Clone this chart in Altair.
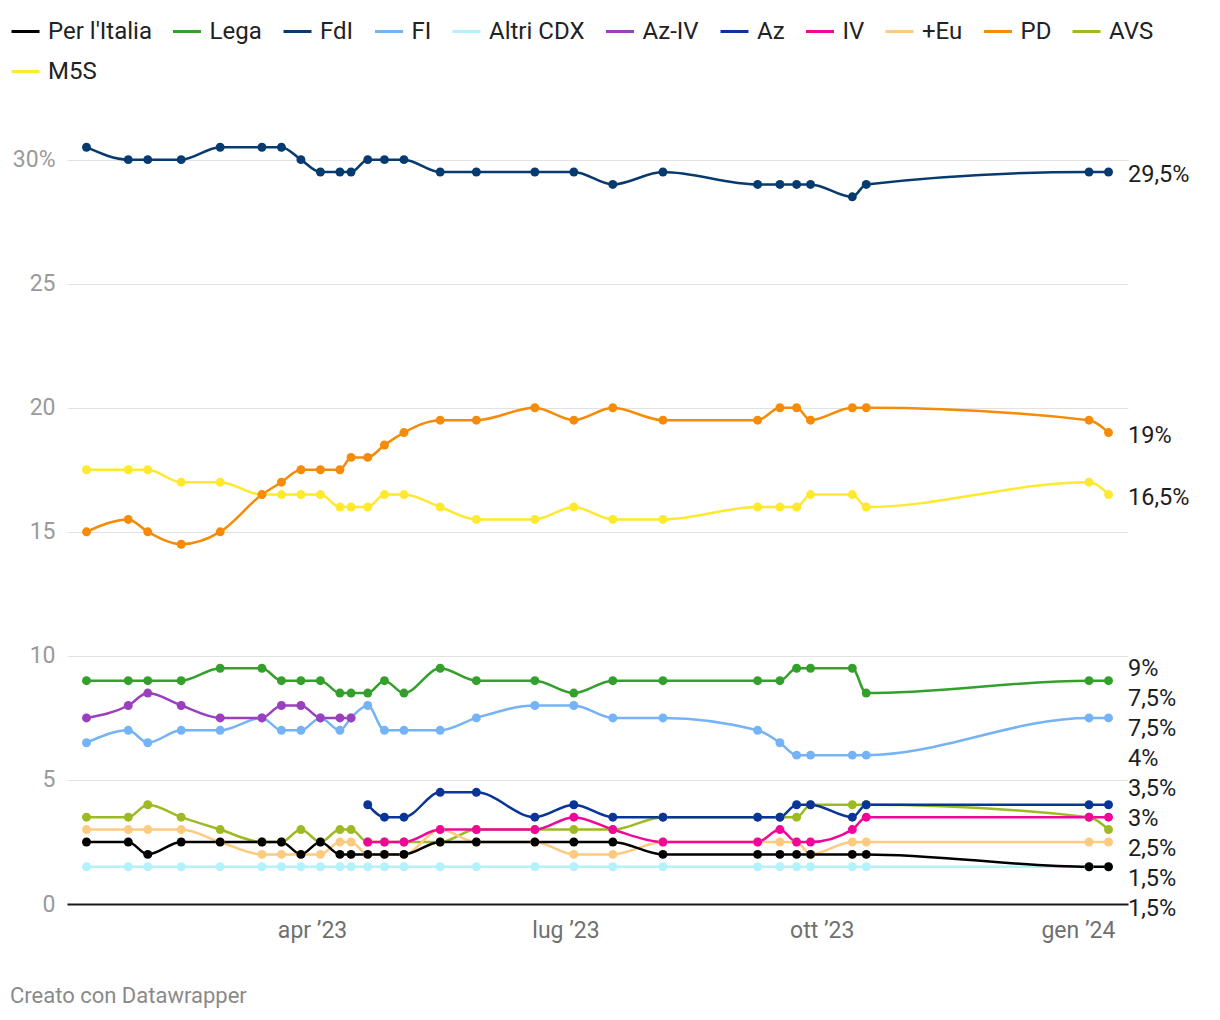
import altair as alt
import pandas as pd
import numpy as np

# ---------------- data ----------------
dates = ["2023-01-10", "2023-01-25", "2023-02-01", "2023-02-13", "2023-02-27",
         "2023-03-14", "2023-03-21", "2023-03-28", "2023-04-04", "2023-04-11",
         "2023-04-15", "2023-04-21", "2023-04-27", "2023-05-04", "2023-05-17",
         "2023-05-30", "2023-06-20", "2023-07-04", "2023-07-18", "2023-08-05",
         "2023-09-08", "2023-09-16", "2023-09-22", "2023-09-27", "2023-10-12",
         "2023-10-17", "2024-01-05", "2024-01-12"]

N = None
per_italia = [2.5, 2.5, 2, 2.5, 2.5, 2.5, 2.5, 2, 2.5, 2, 2, 2, 2, 2, 2.5, 2.5, 2.5, 2.5, 2.5, 2, 2, 2, 2, 2, 2, 2, 1.5, 1.5]
lega = [9, 9, 9, 9, 9.5, 9.5, 9, 9, 9, 8.5, 8.5, 8.5, 9, 8.5, 9.5, 9, 9, 8.5, 9, 9, 9, 9, 9.5, 9.5, 9.5, 8.5, 9, 9]
fdi = [30.5, 30, 30, 30, 30.5, 30.5, 30.5, 30, 29.5, 29.5, 29.5, 30, 30, 30, 29.5, 29.5, 29.5, 29.5, 29, 29.5, 29, 29, 29, 29, 28.5, 29, 29.5, 29.5]
fi = [6.5, 7, 6.5, 7, 7, 7.5, 7, 7, 7.5, 7, 7.5, 8, 7, 7, 7, 7.5, 8, 8, 7.5, 7.5, 7, 6.5, 6, 6, 6, 6, 7.5, 7.5]
altri_cdx = [1.5] * 28
az_iv = [7.5, 8, 8.5, 8, 7.5, 7.5, 8, 8, 7.5, 7.5, 7.5] + [N] * 17
az = [N] * 11 + [4, 3.5, 3.5, 4.5, 4.5, 3.5, 4, 3.5, 3.5, 3.5, 3.5, 4, 4, 3.5, 4, 4, 4]
iv = [N] * 11 + [2.5, 2.5, 2.5, 3, 3, 3, 3.5, 3, 2.5, 2.5, 3, 2.5, 2.5, 3, 3.5, 3.5, 3.5]
piu_eu = [3, 3, 3, 3, 2.5, 2, 2, 2, 2, 2.5, 2.5, 2, 2, 2, 3, 2.5, 2.5, 2, 2, 2.5, 2.5, 2.5, 2.5, 2, 2.5, 2.5, 2.5, 2.5]
pd_ = [15, 15.5, 15, 14.5, 15, 16.5, 17, 17.5, 17.5, 17.5, 18, 18, 18.5, 19, 19.5, 19.5, 20, 19.5, 20, 19.5, 19.5, 20, 20, 19.5, 20, 20, 19.5, 19]
avs = [3.5, 3.5, 4, 3.5, 3, 2.5, 2.5, 3, 2.5, 3, 3, 2.5, 2.5, 2.5, 2.5, 3, 3, 3, 3, 3.5, 3.5, 3.5, 3.5, 4, 4, 4, 3.5, 3]
m5s = [17.5, 17.5, 17.5, 17, 17, 16.5, 16.5, 16.5, 16.5, 16, 16, 16, 16.5, 16.5, 16, 15.5, 15.5, 16, 15.5, 15.5, 16, 16, 16, 16.5, 16.5, 16, 17, 16.5]

series_names = ["Per l'Italia", "Lega", "FdI", "FI", "Altri CDX", "Az-IV", "Az", "IV", "+Eu", "PD", "AVS", "M5S"]
series_values = [per_italia, lega, fdi, fi, altri_cdx, az_iv, az, iv, piu_eu, pd_, avs, m5s]
series_colors = ["#000000", "#33a02c", "#073b6f", "#74b3f5", "#b3f1fb", "#9c3fbf",
                 "#093599", "#f0079a", "#fdca80", "#f68b08", "#9dba22", "#fee92e"]
# drawing order, bottom -> top
z_order = ["AVS", "+Eu", "Altri CDX", "FI", "Az-IV", "Lega", "M5S", "PD", "FdI", "Per l'Italia", "IV", "Az"]

rows = []
for name, vals in zip(series_names, series_values):
    for d, v in zip(dates, vals):
        if v is not None:
            rows.append({"date": d, "party": name, "value": v, "z": z_order.index(name)})
df = pd.DataFrame(rows).sort_values(["z", "date"]).reset_index(drop=True)

# ---------------- geometry ----------------
W = 1061
H = 794
Y_MAX = 32
px_per_unit = H / Y_MAX
x_start = alt.DateTime(year=2023, month=1, date=3, utc=True)
x_end = alt.DateTime(year=2024, month=1, date=19, utc=True)

# ---------------- end labels with simple collision avoidance ----------------
last_vals = []
for name, vals in zip(series_names, series_values):
    v = [x for x in vals if x is not None][-1]
    last_vals.append(v)

gap = 30 / px_per_unit
floor = -0.1
order = sorted(range(len(last_vals)), key=lambda i: -last_vals[i])
clusters = []
for i in order:
    clusters.append({"m": [i], "c": last_vals[i]})
    while len(clusters) > 1:
        a, b = clusters[-2], clusters[-1]
        a_bot = a["c"] - (len(a["m"]) - 1) * gap / 2
        b_top = b["c"] + (len(b["m"]) - 1) * gap / 2
        if a_bot - b_top < gap:
            m = a["m"] + b["m"]
            clusters[-2:] = [{"m": m, "c": float(np.mean([last_vals[k] for k in m]))}]
        else:
            break
label_pos = {}
for cl in clusters:
    n = len(cl["m"])
    top = cl["c"] + (n - 1) * gap / 2
    bottom = top - (n - 1) * gap
    if bottom < floor:
        top += floor - bottom
    for j, k in enumerate(cl["m"]):
        label_pos[k] = top - j * gap


def fmt(v):
    s = f"{v:g}".replace(".", ",")
    return s + "%"


labels_df = pd.DataFrame({
    "date": ["2024-01-19"] * len(series_names),
    "party": series_names,
    "pos": [label_pos[i] for i in range(len(series_names))],
    "text": [fmt(v) for v in last_vals],
})

month_expr = ("['gen','feb','mar','apr','mag','giu','lug','ago','set','ott','nov','dic']"
              "[utcmonth(datum.value)] + ' \u2019' + utcFormat(datum.value, '%y')")

x_enc = alt.X(
    "date:T",
    scale=alt.Scale(type="utc", domain=[x_start, x_end]),
    axis=alt.Axis(
        values=[alt.DateTime(year=2023, month=4, date=1, utc=True),
                alt.DateTime(year=2023, month=7, date=1, utc=True),
                alt.DateTime(year=2023, month=10, date=1, utc=True),
                alt.DateTime(year=2024, month=1, date=1, utc=True)],
        labelExpr=month_expr,
        title=None, grid=False, ticks=False, domain=True,
        domainColor="#1a1a1a", domainWidth=2,
        labelFontSize=23, labelColor="#707070", labelPadding=15,
    ),
)
y_scale = alt.Scale(domain=[0, Y_MAX], nice=False, zero=True)
y_enc = alt.Y(
    "value:Q",
    scale=y_scale,
    axis=alt.Axis(
        values=[0, 5, 10, 15, 20, 25, 30],
        labelExpr="datum.value == 30 ? '30%' : datum.label",
        title=None, grid=True, gridColor="#e2e2e2", gridWidth=1,
        domain=False, ticks=False,
        labelFontSize=23, labelColor="#9a9a9a", labelPadding=12,
    ),
)
legend = alt.Legend(
    orient="none", legendX=-57, legendY=-94, direction="horizontal",
    columns=11, gridAlign="none", title=None,
    symbolType="stroke", symbolSize=784, symbolStrokeWidth=3,
    labelFontSize=24, labelColor="#222222", labelOffset=7,
    columnPadding=14.5, rowPadding=12, padding=0,
)
color_enc = alt.Color(
    "party:N",
    scale=alt.Scale(domain=series_names, range=series_colors),
    legend=legend,
)

base = alt.Chart(df)
lines = base.mark_line(interpolate="monotone", strokeWidth=2.5).encode(
    x=x_enc, y=y_enc, color=color_enc, detail="party:N", order=alt.Order("date:T")
)
points = base.mark_circle(size=80, opacity=1).encode(
    x=x_enc, y=y_enc, color=color_enc, order=alt.Order("z:Q")
)
end_labels = alt.Chart(labels_df).mark_text(
    align="left", baseline="middle", dx=0, dy=3, fontSize=23.5, color="#1d1d1d"
).encode(
    x=alt.X("date:T", scale=alt.Scale(type="utc", domain=[x_start, x_end])),
    y=alt.Y("pos:Q", scale=y_scale),
    text="text:N",
)
footer = alt.Chart(pd.DataFrame({"t": ["Creato con Datawrapper"]})).mark_text(
    align="left", baseline="middle", fontSize=22, color="#8a8a8a"
).encode(x=alt.value(-57), y=alt.value(886), text="t:N")

chart = alt.layer(lines, points, end_labels, footer).properties(
    width=W, height=H,
    autosize=alt.AutoSizeParams(type="none"),
    padding={"left": 59, "top": 102, "right": 80, "bottom": 106},
).configure(font="Roboto").configure_view(stroke=None)

chart.save("out.html", embed_options={"renderer": "svg", "actions": False})
